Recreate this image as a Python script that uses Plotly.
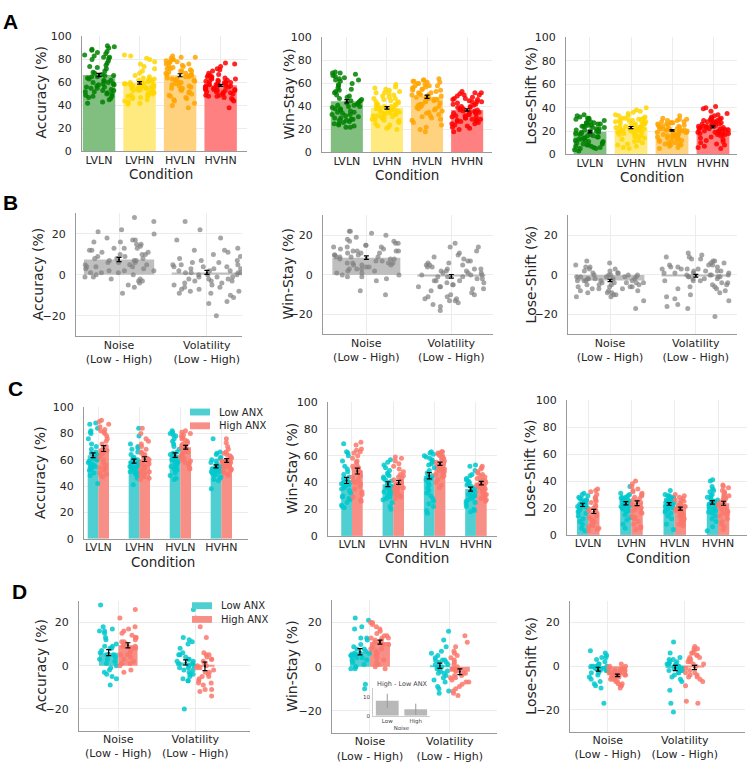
import math
import plotly.graph_objects as go

W, H = 751, 769

# ---------------- labels ----------------
conditions = ["LVLN", "LVHN", "HVLN", "HVHN"]
diff_labels = ["Noise<br>(Low - High)", "Volatility<br>(Low - High)"]
metric_titles = ["Accuracy (%)", "Win-Stay (%)", "Lose-Shift (%)"]
group_names = ["Low ANX", "High ANX"]
inset_labels = ["Low", "High"]

# ---------------- panel A: condition means, SEM, subjects ----------------
A_acc_mean = [66.5, 59.7, 66.3, 57.5]
A_acc_sem = [1.4, 1.1, 1.3, 0.9]
A_ws_mean = [44.5, 38.8, 48.5, 37.0]
A_ws_sem = [1.5, 1.1, 1.4, 1.0]
A_ls_mean = [19.3, 23.0, 20.6, 23.5]
A_ls_sem = [0.9, 0.9, 0.7, 0.9]

A_acc_pts = [
    [92, 91, 90, 89, 88, 87, 86, 85, 84, 83, 82, 82, 81, 80, 79, 77, 75, 74, 73, 72, 70, 69, 68, 67, 66, 66, 65, 64, 63, 62,
     62, 61, 60, 60, 59, 59, 58, 58, 57, 56, 56, 55, 55, 54, 53, 53, 52, 52, 51, 50, 50, 49, 48, 48, 47, 46, 45, 43, 42, 65],
    [84, 83, 81, 80, 78, 76, 74, 72, 70, 68, 66, 65, 64, 63, 62, 62, 61, 61, 60, 60, 60, 59, 59, 58, 58, 58, 57, 57, 57, 56,
     56, 56, 55, 55, 55, 54, 54, 54, 53, 53, 52, 52, 51, 51, 50, 50, 49, 49, 48, 48, 47, 47, 46, 45, 44, 43, 42, 41, 63, 61],
    [83, 82, 82, 81, 80, 80, 79, 78, 78, 77, 76, 76, 75, 74, 74, 73, 72, 72, 71, 70, 70, 69, 68, 68, 67, 66, 66, 65, 65, 64,
     63, 63, 62, 62, 61, 60, 60, 59, 58, 57, 57, 56, 55, 55, 54, 53, 52, 51, 50, 49, 48, 47, 46, 45, 44, 42, 40, 38, 70, 67],
    [77, 76, 74, 72, 71, 70, 68, 67, 66, 66, 65, 65, 64, 64, 63, 63, 62, 62, 61, 61, 60, 60, 60, 59, 59, 58, 58, 58, 57, 57,
     57, 56, 56, 56, 55, 55, 55, 54, 54, 54, 53, 53, 52, 52, 51, 51, 50, 50, 49, 49, 48, 48, 47, 46, 45, 44, 38, 61, 59, 53],
]
A_ws_pts = [
    [70, 69, 69, 68, 67, 66, 65, 64, 63, 63, 62, 60, 58, 56, 55, 54, 53, 52, 50, 49, 48, 47, 46, 45, 44, 43, 43, 42, 41, 40,
     40, 39, 38, 37, 36, 35, 35, 34, 33, 32, 31, 30, 30, 29, 28, 28, 27, 26, 25, 25, 24, 23, 22, 22, 45, 41, 38, 33, 29, 59],
    [59, 57, 56, 55, 54, 53, 52, 51, 50, 49, 48, 47, 46, 45, 44, 43, 42, 42, 41, 40, 40, 39, 39, 38, 38, 37, 37, 36, 36, 35,
     35, 34, 34, 33, 33, 32, 32, 31, 30, 30, 29, 28, 28, 27, 26, 25, 24, 23, 22, 21, 20, 44, 41, 39, 36, 33, 31, 47, 52, 29],
    [64, 63, 63, 62, 62, 61, 60, 60, 59, 58, 58, 57, 56, 56, 55, 54, 54, 53, 52, 51, 50, 50, 49, 48, 48, 47, 46, 45, 45, 44,
     43, 42, 41, 40, 40, 39, 38, 37, 36, 35, 34, 33, 32, 31, 30, 29, 28, 26, 24, 22, 20, 18, 55, 50, 46, 42, 58, 61, 38, 52],
    [53, 52, 52, 51, 50, 50, 49, 48, 47, 46, 46, 45, 44, 44, 43, 42, 42, 41, 40, 40, 39, 38, 38, 37, 37, 36, 36, 35, 35, 34,
     34, 33, 33, 32, 32, 31, 31, 30, 30, 29, 29, 28, 28, 27, 27, 26, 25, 25, 24, 23, 22, 21, 20, 18, 44, 39, 35, 31, 47, 27],
]
A_ls_pts = [
    [34, 33, 32, 31, 30, 30, 29, 28, 27, 27, 26, 26, 25, 25, 24, 24, 23, 23, 22, 22, 21, 21, 20, 20, 19, 19, 18, 18, 17, 17,
     16, 16, 15, 15, 14, 14, 13, 13, 12, 12, 11, 11, 10, 10, 9, 9, 8, 8, 7, 7, 6, 6, 5, 5, 4, 3, 24, 20, 27, 31],
    [40, 38, 37, 36, 35, 34, 33, 33, 32, 31, 31, 30, 30, 29, 29, 28, 28, 27, 27, 26, 26, 25, 25, 24, 24, 23, 23, 22, 22, 21,
     21, 20, 20, 19, 19, 18, 17, 17, 16, 15, 14, 13, 12, 11, 10, 9, 8, 7, 6, 5, 29, 26, 23, 20, 31, 28, 24, 18, 15, 22],
    [33, 31, 30, 30, 29, 29, 28, 28, 27, 27, 26, 26, 25, 25, 24, 24, 23, 23, 22, 22, 22, 21, 21, 21, 20, 20, 20, 19, 19, 19,
     18, 18, 17, 17, 16, 16, 15, 15, 14, 14, 13, 13, 12, 12, 11, 11, 10, 10, 9, 9, 8, 8, 7, 6, 5, 25, 22, 19, 16, 27],
    [41, 40, 39, 37, 35, 34, 33, 32, 31, 31, 30, 30, 29, 29, 28, 28, 27, 27, 26, 26, 25, 25, 24, 24, 23, 23, 22, 22, 21, 21,
     20, 20, 19, 19, 18, 18, 17, 17, 16, 15, 14, 13, 12, 11, 10, 9, 8, 7, 6, 5, 28, 25, 22, 19, 30, 26, 23, 20, 17, 24],
]

# ---------------- panel B: Low - High differences ----------------
B_acc_mean = [7.5, 1.2]
B_acc_sem = [1.0, 1.0]
B_ws_mean = [8.7, -0.7]
B_ws_sem = [0.9, 0.9]
B_ls_mean = [-2.8, -0.4]
B_ls_sem = [0.6, 0.7]

B_acc_pts = [
    [28, 26, 22, 21, 20, 18, 17, 17, 16, 16, 15, 15, 14, 13, 13, 12, 12, 11, 11, 10, 10, 9, 9, 8, 8, 8, 7, 7, 6, 6,
     6, 5, 5, 5, 4, 4, 3, 3, 2, 2, 2, 1, 1, 0, 0, -1, -1, -2, -2, -3, -3, -4, -5, -6, -9, 10, 7, 4, 13, 1],
    [26, 22, 18, 17, 13, 12, 12, 11, 10, 9, 8, 7, 7, 6, 6, 5, 5, 5, 4, 4, 3, 3, 3, 2, 2, 2, 1, 1, 1, 0,
     0, 0, -1, -1, -1, -2, -2, -3, -3, -3, -4, -4, -5, -5, -6, -6, -7, -7, -8, -8, -9, -9, -10, -11, -13, -14, -20, 4, 1, -2],
]
B_ws_pts = [
    [22, 22, 21, 20, 19, 18, 17, 16, 16, 15, 15, 14, 14, 13, 13, 12, 12, 12, 11, 11, 10, 10, 10, 9, 9, 9, 8, 8, 8, 7,
     7, 6, 6, 6, 5, 5, 5, 4, 4, 3, 3, 2, 2, 1, 1, 0, 0, -1, -1, -2, -3, -8, -10, 12, 9, 6, 3, 14, 17, 11],
    [16, 14, 14, 12, 11, 10, 9, 8, 7, 7, 6, 6, 5, 5, 4, 4, 3, 3, 3, 2, 2, 1, 1, 1, 0, 0, 0, -1, -1, -2,
     -2, -3, -3, -4, -4, -5, -5, -6, -6, -7, -7, -8, -9, -10, -10, -11, -11, -12, -12, -13, -13, -14, -15, -16, -18, 2, -1, -3, 5, -6],
]
B_ls_pts = [
    [7, 6, 5, 4, 4, 3, 3, 2, 2, 1, 1, 1, 0, 0, 0, 0, -1, -1, -1, -1, -2, -2, -2, -2, -3, -3, -3, -3, -4, -4,
     -4, -4, -5, -5, -5, -6, -6, -6, -7, -7, -7, -8, -8, -8, -9, -9, -9, -10, -10, -11, -11, -13, -17, -2, -3, -1, -4, -5, 0, -6],
    [11, 10, 9, 9, 8, 8, 7, 7, 6, 6, 5, 5, 5, 4, 4, 4, 3, 3, 3, 2, 2, 2, 1, 1, 1, 0, 0, 0, -1, -1,
     -1, -2, -2, -2, -3, -3, -4, -4, -5, -5, -6, -6, -7, -7, -8, -9, -10, -11, -12, -13, -15, -16, -17, -21, 1, -1, 3, -3, 2, 0],
]

# ---------------- panel C: conditions split by anxiety ----------------
C_acc_mean_low = [63.5, 59.0, 63.5, 55.0]
C_acc_mean_high = [68.5, 60.5, 69.5, 59.5]
C_acc_sem_low = [1.8, 1.5, 1.7, 1.2]
C_acc_sem_high = [2.2, 1.8, 1.4, 1.4]
C_ws_mean_low = [41.5, 38.7, 45.0, 35.0]
C_ws_mean_high = [48.5, 40.0, 54.0, 39.5]
C_ws_sem_low = [2.3, 1.8, 2.3, 1.5]
C_ws_sem_high = [2.2, 1.5, 1.2, 1.3]
C_ls_mean_low = [22.3, 23.5, 23.0, 24.2]
C_ls_mean_high = [17.4, 23.5, 19.5, 23.5]
C_ls_sem_low = [1.2, 1.2, 1.0, 1.3]
C_ls_sem_high = [1.5, 1.7, 1.1, 1.5]

C_acc_pts_low = [
    [88, 87, 84, 82, 81, 80, 76, 72, 70, 68, 66, 65, 64, 63, 62, 61, 60, 60, 59, 58, 57, 56, 55, 55, 54, 53, 52, 50, 48, 42],
    [84, 78, 72, 70, 69, 68, 66, 64, 62, 61, 60, 60, 59, 58, 58, 57, 56, 55, 55, 54, 54, 53, 52, 51, 50, 50, 49, 48, 46, 41],
    [82, 81, 80, 79, 78, 76, 74, 72, 70, 68, 66, 65, 64, 63, 62, 61, 60, 60, 59, 58, 57, 56, 55, 54, 53, 52, 50, 48, 46, 45],
    [76, 66, 65, 64, 62, 61, 60, 59, 58, 57, 56, 55, 55, 54, 54, 53, 53, 52, 52, 51, 51, 50, 50, 49, 48, 47, 46, 45, 44, 38],
]
C_acc_pts_high = [
    [90, 89, 87, 85, 83, 82, 81, 80, 78, 76, 74, 72, 70, 68, 67, 66, 65, 64, 62, 60, 58, 56, 55, 54, 53, 52, 50, 49, 48, 47],
    [84, 80, 76, 74, 72, 70, 68, 66, 65, 64, 63, 62, 61, 60, 59, 58, 57, 56, 55, 54, 53, 52, 51, 50, 49, 48, 47, 46, 45, 57],
    [82, 81, 80, 79, 78, 77, 76, 75, 74, 73, 72, 71, 70, 70, 69, 68, 67, 66, 65, 64, 63, 62, 61, 60, 59, 58, 57, 56, 54, 53],
    [76, 73, 70, 68, 66, 65, 64, 63, 62, 61, 60, 60, 59, 59, 58, 58, 57, 57, 56, 56, 55, 55, 54, 53, 52, 51, 50, 49, 48, 58],
]
C_ws_pts_low = [
    [69, 63, 62, 60, 56, 52, 50, 48, 46, 44, 43, 42, 41, 40, 40, 39, 38, 37, 36, 35, 34, 32, 30, 29, 28, 27, 25, 23, 22, 21],
    [57, 55, 53, 51, 49, 47, 46, 45, 44, 43, 42, 41, 40, 39, 38, 37, 36, 35, 35, 34, 33, 32, 31, 30, 29, 28, 27, 25, 22, 20],
    [63, 62, 61, 60, 59, 58, 57, 56, 55, 54, 53, 51, 49, 47, 45, 44, 43, 42, 40, 38, 36, 34, 32, 30, 28, 26, 24, 22, 19, 17],
    [53, 52, 49, 46, 45, 43, 42, 41, 40, 39, 38, 37, 36, 35, 34, 33, 32, 31, 30, 30, 29, 28, 27, 26, 25, 24, 22, 20, 19, 18],
]
C_ws_pts_high = [
    [70, 68, 65, 64, 63, 62, 60, 58, 56, 55, 53, 52, 51, 50, 49, 48, 47, 45, 44, 42, 41, 40, 39, 37, 35, 33, 31, 29, 27, 26],
    [59, 58, 56, 54, 52, 50, 48, 46, 45, 44, 43, 42, 41, 40, 39, 38, 37, 37, 36, 35, 35, 34, 33, 33, 32, 31, 31, 30, 29, 28],
    [63, 63, 62, 62, 61, 61, 60, 60, 59, 58, 58, 57, 56, 55, 54, 53, 52, 51, 50, 50, 49, 48, 47, 46, 45, 44, 42, 40, 38, 36],
    [52, 51, 50, 48, 47, 46, 45, 44, 43, 42, 42, 41, 40, 40, 39, 38, 38, 37, 36, 36, 35, 34, 33, 32, 31, 30, 29, 28, 27, 26],
]
C_ls_pts_low = [
    [31, 30, 29, 28, 27, 27, 26, 26, 25, 25, 24, 24, 23, 23, 22, 22, 21, 21, 20, 20, 19, 18, 17, 16, 14, 12, 10, 8, 5, 3],
    [36, 31, 30, 29, 28, 28, 27, 27, 26, 26, 25, 25, 24, 24, 23, 23, 22, 22, 21, 21, 20, 20, 19, 18, 17, 15, 13, 11, 8, 5],
    [33, 30, 29, 29, 28, 28, 27, 27, 26, 26, 25, 25, 24, 24, 23, 23, 22, 22, 21, 21, 20, 20, 19, 18, 17, 16, 14, 12, 8, 4],
    [41, 40, 36, 34, 33, 32, 30, 29, 28, 27, 26, 26, 25, 25, 24, 24, 23, 23, 22, 21, 20, 19, 18, 17, 16, 14, 12, 10, 6, 3],
]
C_ls_pts_high = [
    [34, 33, 32, 30, 28, 26, 25, 24, 22, 21, 20, 19, 18, 17, 16, 15, 14, 13, 12, 11, 10, 9, 8, 7, 6, 5, 4, 3, 27, 18],
    [40, 38, 36, 34, 33, 32, 31, 30, 29, 28, 27, 26, 25, 24, 23, 22, 21, 20, 19, 18, 17, 16, 14, 13, 12, 10, 8, 6, 5, 4],
    [30, 29, 28, 27, 26, 26, 25, 24, 23, 22, 21, 21, 20, 20, 19, 19, 18, 18, 17, 16, 15, 14, 13, 12, 11, 10, 9, 8, 7, 22],
    [37, 36, 35, 33, 32, 31, 30, 29, 28, 28, 27, 26, 25, 24, 24, 23, 22, 21, 20, 19, 18, 17, 16, 15, 14, 12, 10, 8, 6, 4],
]

# ---------------- panel D: differences split by anxiety ----------------
D_acc_mean_low = [6.0, 1.5]
D_acc_mean_high = [9.4, -0.3]
D_acc_sem_low = [1.4, 1.2]
D_acc_sem_high = [1.2, 2.0]
D_ws_mean_low = [6.7, 0.4]
D_ws_mean_high = [11.1, -2.3]
D_ws_sem_low = [1.4, 1.2]
D_ws_sem_high = [0.9, 1.3]
D_ls_mean_low = [-1.4, -0.8]
D_ls_mean_high = [-4.2, -0.6]
D_ls_sem_low = [0.9, 1.2]
D_ls_sem_high = [0.6, 1.0]

D_acc_pts_low = [
    [28, 18, 17, 16, 16, 15, 13, 12, 10, 9, 9, 8, 8, 7, 6, 5, 5, 4, 3, 3, 2, 1, 0, -1, -2, -3, -4, -5, -6, -9],
    [26, 13, 12, 11, 10, 8, 6, 5, 5, 4, 3, 3, 2, 2, 1, 1, 0, 0, -1, -1, -2, -2, -3, -4, -4, -5, -6, -7, -7, -20],
]
D_acc_pts_high = [
    [26, 22, 18, 17, 16, 15, 14, 13, 13, 12, 11, 11, 10, 10, 9, 9, 8, 8, 7, 6, 5, 5, 4, 3, 2, 1, 1, 0, -2, -3],
    [22, 18, 13, 6, 5, 5, 4, 3, 3, 2, 1, 0, 0, -1, -1, -2, -3, -3, -4, -5, -5, -6, -7, -8, -8, -9, -11, -11, -12, -14],
]
D_ws_pts_low = [
    [22, 21, 18, 17, 13, 13, 12, 10, 9, 8, 8, 7, 6, 6, 5, 5, 5, 4, 4, 3, 3, 2, 1, 0, 0, -1, -1, -8, -10, 6],
    [16, 12, 9, 7, 6, 5, 4, 3, 3, 2, 2, 1, 1, 0, 0, -1, -1, -2, -2, -3, -3, -4, -5, -6, -7, -9, -10, -11, -12, 3],
]
D_ws_pts_high = [
    [20, 20, 19, 18, 17, 16, 15, 14, 14, 13, 13, 12, 12, 11, 11, 10, 10, 9, 8, 8, 7, 6, 5, 4, 3, 2, 1, 0, -1, 13],
    [14, 11, 9, 7, 6, 5, 4, 3, 2, 1, 0, -1, -1, -2, -3, -3, -4, -5, -5, -6, -7, -7, -8, -9, -10, -11, -12, -13, -4, -2],
]
D_ls_pts_low = [
    [7, 6, 5, 4, 4, 3, 2, 1, 1, 0, 0, 0, -1, -1, -1, -2, -2, -2, -3, -3, -4, -5, -6, -7, -8, -9, -10, -17, 0, -1],
    [11, 6, 4, 3, 3, 2, 2, 1, 1, 1, 0, 0, 0, -1, -1, -1, -2, -2, -2, -3, -3, -4, -5, -6, -7, -11, -17, -21, 1, -1],
]
D_ls_pts_high = [
    [1, 0, 0, -1, -1, -2, -2, -2, -3, -3, -3, -3, -4, -4, -4, -4, -5, -5, -5, -5, -6, -6, -6, -7, -7, -8, -8, -9, -9, -10],
    [9, 8, 8, 7, 6, 6, 5, 5, 4, 4, 3, 3, 2, 2, 1, 1, 0, -1, -2, -3, -3, -4, -4, -5, -5, -6, -7, -9, -16, -17],
]

# inset: High - Low ANX difference in Win-Stay noise effect
inset_mean = [8.0, 3.5]
inset_err = [3.8, 3.0]

# ---------------- styling ----------------
FONT = "DejaVu Sans"
TXT = "#262626"
GRID = "#ececec"
SPINE = "#9a9a9a"
cond_bar = ["#80bf80", "#ffea80", "#ffd280", "#ff8080"]
cond_dot = ["rgba(0,128,0,0.85)", "rgba(255,215,0,0.85)", "rgba(255,165,0,0.85)", "rgba(255,0,0,0.85)"]
gray_bar = "#bfbfbf"
gray_dot = "rgba(128,128,128,0.7)"
low_bar, high_bar = "#4fcfd1", "#f78f87"
low_dot, high_dot = "rgba(0,200,204,0.85)", "rgba(250,120,108,0.85)"


def jitter(n, width, salt):
    out = []
    for i in range(n):
        h = math.sin((i + 1) * 12.9898 + salt * 78.233) * 43758.5453
        out.append((h - math.floor(h) - 0.5) * width)
    return out


fig = go.Figure()
layout = {}


def add_axes(k, xpx, xr, ypx, yr, tickvals, ticktext, ytickvals):
    xs = "xaxis" if k == 1 else f"xaxis{k}"
    ys = "yaxis" if k == 1 else f"yaxis{k}"
    layout[xs] = dict(domain=[xpx[0] / W, xpx[1] / W], range=xr, anchor="y" if k == 1 else f"y{k}",
                      tickvals=tickvals, ticktext=ticktext, showgrid=True, gridcolor=GRID, gridwidth=1,
                      showline=True, linecolor=SPINE, linewidth=1.2, ticks="", zeroline=False,
                      tickfont=dict(family=FONT, size=11, color=TXT), ticklabelstandoff=-2)
    layout[ys] = dict(domain=[1 - ypx[1] / H, 1 - ypx[0] / H], range=yr, anchor="x" if k == 1 else f"x{k}",
                      tickvals=ytickvals, showgrid=True, gridcolor=GRID, gridwidth=1,
                      showline=True, linecolor=SPINE, linewidth=1.2, ticks="", zeroline=False,
                      tickfont=dict(family=FONT, size=11, color=TXT), ticklabelstandoff=7)


def refs(k):
    return ("x", "y") if k == 1 else (f"x{k}", f"y{k}")


def add_err(k, xs, means, sems, color="black", thick=1.2, cap=2.5):
    xa, ya = refs(k)
    fig.add_trace(go.Scatter(x=xs, y=means, xaxis=xa, yaxis=ya, mode="markers",
                             marker=dict(size=2, color=color),
                             error_y=dict(type="data", array=sems, color=color, thickness=thick, width=cap),
                             showlegend=False, hoverinfo="skip"))


def cond_panel(k, means, sems, pts):
    xa, ya = refs(k)
    fig.add_trace(go.Bar(x=list(range(4)), y=means, width=0.8, xaxis=xa, yaxis=ya,
                         marker=dict(color=cond_bar, line=dict(width=0)), showlegend=False))
    for i, p in enumerate(pts):
        jx = jitter(len(p), 0.76, k * 10 + i)
        fig.add_trace(go.Scatter(x=[i + j for j in jx], y=p, xaxis=xa, yaxis=ya, mode="markers",
                                 marker=dict(size=5, color=cond_dot[i], line=dict(width=0)),
                                 showlegend=False))
    add_err(k, list(range(4)), means, sems)


def diff_panel(k, means, sems, pts):
    xa, ya = refs(k)
    fig.add_trace(go.Bar(x=[0, 1], y=means, width=0.8, xaxis=xa, yaxis=ya,
                         marker=dict(color=gray_bar, line=dict(width=0)), showlegend=False))
    for i, p in enumerate(pts):
        jx = jitter(len(p), 0.8, k * 10 + i)
        fig.add_trace(go.Scatter(x=[i + j for j in jx], y=p, xaxis=xa, yaxis=ya, mode="markers",
                                 marker=dict(size=5, color=gray_dot, line=dict(width=0)),
                                 showlegend=False))
    add_err(k, [0, 1], means, sems)


def group_panel(k, n, ml, mh, sl, sh, pl, ph, off, bw):
    xa, ya = refs(k)
    xl = [i - off for i in range(n)]
    xh = [i + off for i in range(n)]
    fig.add_trace(go.Bar(x=xl, y=ml, width=bw, xaxis=xa, yaxis=ya, name=group_names[0],
                         marker=dict(color=low_bar, line=dict(width=0)), showlegend=False))
    fig.add_trace(go.Bar(x=xh, y=mh, width=bw, xaxis=xa, yaxis=ya, name=group_names[1],
                         marker=dict(color=high_bar, line=dict(width=0)), showlegend=False))
    for i in range(n):
        j1 = jitter(len(pl[i]), bw * 0.95, k * 10 + i)
        j2 = jitter(len(ph[i]), bw * 0.95, k * 10 + i + 5)
        fig.add_trace(go.Scatter(x=[xl[i] + j for j in j1], y=pl[i], xaxis=xa, yaxis=ya, mode="markers",
                                 marker=dict(size=5, color=low_dot, line=dict(width=0)), showlegend=False))
        fig.add_trace(go.Scatter(x=[xh[i] + j for j in j2], y=ph[i], xaxis=xa, yaxis=ya, mode="markers",
                                 marker=dict(size=5, color=high_dot, line=dict(width=0)), showlegend=False))
    add_err(k, xl, ml, sl)
    add_err(k, xh, mh, sh)


pct_ticks = [0, 20, 40, 60, 80, 100]
diff_ticks = [-20, 0, 20]

# Panel A
add_axes(1, (82, 247), [-0.42, 3.65], (31, 148), [0, 100], [0, 1, 2, 3], conditions, pct_ticks)
add_axes(2, (322, 492), [-0.62, 3.62], (32, 149), [0, 100], [0, 1, 2, 3], conditions, pct_ticks)
add_axes(3, (566, 737), [-0.585, 3.585], (32, 151), [0, 100], [0, 1, 2, 3], conditions, pct_ticks)
cond_panel(1, A_acc_mean, A_acc_sem, A_acc_pts)
cond_panel(2, A_ws_mean, A_ws_sem, A_ws_pts)
cond_panel(3, A_ls_mean, A_ls_sem, A_ls_pts)

# Panel B
add_axes(4, (76, 242), [-0.49, 1.40], (211, 336), [-30, 30], [0, 1], diff_labels, diff_ticks)
add_axes(5, (323, 493), [-0.51, 1.49], (213, 334), [-30, 30], [0, 1], diff_labels, diff_ticks)
add_axes(6, (568, 737), [-0.49, 1.48], (213, 334), [-30, 30], [0, 1], diff_labels, diff_ticks)
diff_panel(4, B_acc_mean, B_acc_sem, B_acc_pts)
diff_panel(5, B_ws_mean, B_ws_sem, B_ws_pts)
diff_panel(6, B_ls_mean, B_ls_sem, B_ls_pts)

# Panel C
add_axes(7, (84, 248), [-0.35, 3.65], (408, 542), [0, 100], [0, 1, 2, 3], conditions, pct_ticks)
add_axes(8, (328, 497), [-0.58, 3.51], (403, 539), [0, 100], [0, 1, 2, 3], conditions, pct_ticks)
add_axes(9, (567, 747), [-0.49, 3.67], (401, 538), [0, 100], [0, 1, 2, 3], conditions, pct_ticks)
group_panel(7, 4, C_acc_mean_low, C_acc_mean_high, C_acc_sem_low, C_acc_sem_high, C_acc_pts_low, C_acc_pts_high, 0.13, 0.26)
group_panel(8, 4, C_ws_mean_low, C_ws_mean_high, C_ws_sem_low, C_ws_sem_high, C_ws_pts_low, C_ws_pts_high, 0.13, 0.26)
group_panel(9, 4, C_ls_mean_low, C_ls_mean_high, C_ls_sem_low, C_ls_sem_high, C_ls_pts_low, C_ls_pts_high, 0.13, 0.26)

# Panel D
add_axes(10, (79, 250), [-0.51, 1.71], (605, 737), [-30, 30], [0, 1], diff_labels, diff_ticks)
add_axes(11, (332, 497), [-0.475, 1.59], (604.5, 739.5), [-30, 30], [0, 1], diff_labels, diff_ticks)
add_axes(12, (570, 745), [-0.49, 1.78], (604.75, 738.25), [-30, 30], [0, 1], diff_labels, diff_ticks)
group_panel(10, 2, D_acc_mean_low, D_acc_mean_high, D_acc_sem_low, D_acc_sem_high, D_acc_pts_low, D_acc_pts_high, 0.125, 0.25)
group_panel(11, 2, D_ws_mean_low, D_ws_mean_high, D_ws_sem_low, D_ws_sem_high, D_ws_pts_low, D_ws_pts_high, 0.125, 0.25)
group_panel(12, 2, D_ls_mean_low, D_ls_mean_high, D_ls_sem_low, D_ls_sem_high, D_ls_pts_low, D_ls_pts_high, 0.125, 0.25)

# Inset in D (Win-Stay)
layout["xaxis13"] = dict(domain=[373 / W, 430 / W], range=[-0.5, 1.5], anchor="y13",
                         tickvals=[0, 1], ticktext=inset_labels, showgrid=False, showline=True,
                         linecolor="#cccccc", linewidth=1, ticks="", zeroline=False,
                         tickfont=dict(family=FONT, size=5.5, color="#444"), ticklabelstandoff=0,
                         title=dict(text="Noise", font=dict(family=FONT, size=5.5, color="#444"), standoff=1))
layout["yaxis13"] = dict(domain=[1 - 722 / H, 1 - 693.5 / H], range=[0, 15], anchor="x13",
                         tickvals=[0, 10], showgrid=False, showline=True, linecolor="#cccccc", linewidth=1,
                         ticks="", zeroline=False, tickfont=dict(family=FONT, size=5.5, color="#444"),
                         ticklabelstandoff=1)
fig.add_trace(go.Bar(x=[0, 1], y=inset_mean, width=0.8, xaxis="x13", yaxis="y13",
                     marker=dict(color="#b8b8b8", line=dict(width=0)),
                     error_y=dict(type="data", array=inset_err, color="#999999", thickness=1, width=0),
                     showlegend=False))

# ---------------- annotations ----------------
ann = []


def text(x, y, s, size=13, angle=0, bold=False, family=FONT, color=TXT, xanchor="center"):
    ann.append(dict(x=x / W, y=1 - y / H, xref="paper", yref="paper", text=f"<b>{s}</b>" if bold else s,
                    showarrow=False, textangle=angle, xanchor=xanchor, yanchor="middle",
                    font=dict(family=family, size=size, color=color)))


for (lx, ly, L) in [(10, 16, "A"), (10, 200, "B"), (15, 389, "C"), (19, 596, "D")]:
    text(lx, ly, L, size=21, bold=True, family="Liberation Sans", color="black")

ytitle_pos = [
    [(41, 88), (289, 90), (531, 91)],
    [(38, 273), (288, 273), (531, 273)],
    [(40, 475), (292, 471), (530, 470)],
    [(41, 671), (292, 672), (531, 671)],
]
for row in ytitle_pos:
    for (tx, ty), t in zip(row, metric_titles):
        text(tx, ty, t, size=14, angle=-90)

for (tx, ty) in [(161, 171), (407, 172), (652, 174), (163, 566), (417, 562), (658, 561)]:
    text(tx, ty, "Condition", size=13.5)

# legends (C and D, accuracy panels)
shapes = []
for (lx, ly) in [(190, 413), (192, 610)]:
    for gi, (col, nm) in enumerate(zip([low_bar, high_bar], group_names)):
        yy = ly + gi * 14
        shapes.append(dict(type="rect", xref="paper", yref="paper", x0=lx / W, x1=(lx + 20) / W,
                           y0=1 - (yy + 3.5) / H, y1=1 - (yy - 3.5) / H, fillcolor=col, line=dict(width=0)))
        text(lx + 27, yy, nm, size=10, xanchor="left")

text(402, 690, "High - Low ANX", size=6.5, color="#444")

fig.update_layout(**layout)
fig.update_layout(width=W, height=H, margin=dict(l=0, r=0, t=0, b=0), plot_bgcolor="white",
                  paper_bgcolor="white", annotations=ann, shapes=shapes, barmode="overlay",
                  showlegend=False)
fig.write_html("out.html")
